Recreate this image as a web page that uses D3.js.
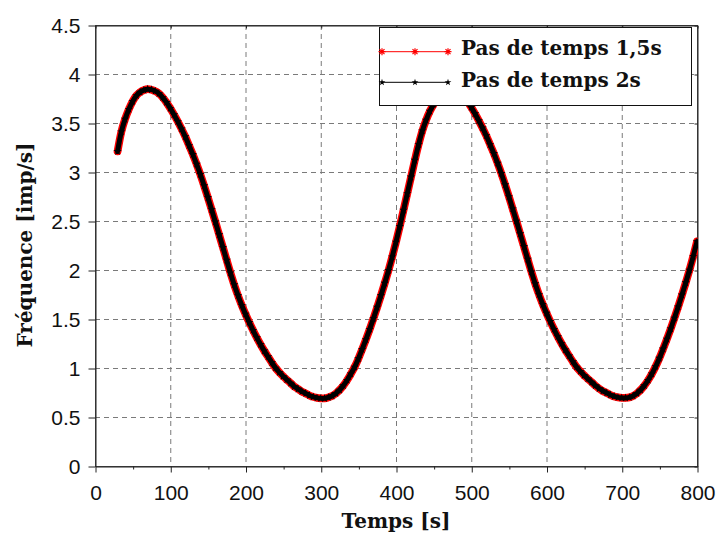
<!DOCTYPE html>
<html><head><meta charset="utf-8">
<script src="https://cdn.jsdelivr.net/npm/d3@7"></script>
<style>body{margin:0;background:#fff} svg{display:block}</style>
</head><body><svg id="c" width="718" height="546"></svg>
<script>
// time grid (s) at which the curves are read
const temps = d3.range(30, 801, 5);
// Série "Pas de temps 1,5s" (imp/s)
const freqPas15 = [
 3.21,3.41,3.54,3.64,3.72,3.78,3.815,3.835,3.845,3.84,
 3.825,3.80,3.76,3.71,3.65,3.585,3.515,3.44,3.36,3.27,
 3.18,3.08,2.975,2.86,2.74,2.615,2.49,2.36,2.23,2.10,
 1.97,1.85,1.74,1.64,1.55,1.465,1.385,1.31,1.24,1.175,
 1.115,1.055,1.00,0.955,0.915,0.88,0.845,0.81,0.785,0.76,
 0.74,0.72,0.705,0.695,0.69,0.69,0.70,0.715,0.74,0.775,
 0.82,0.875,0.94,1.01,1.095,1.19,1.29,1.395,1.505,1.62,
 1.74,1.865,1.995,2.135,2.285,2.445,2.61,2.78,2.95,3.12,
 3.28,3.42,3.53,3.62,3.69,3.745,3.79,3.82,3.84,3.85,
 3.835,3.81,3.77,3.72,3.66,3.595,3.525,3.45,3.37,3.28,
 3.19,3.09,2.985,2.87,2.75,2.625,2.50,2.37,2.24,2.11,
 1.98,1.86,1.75,1.65,1.56,1.475,1.395,1.32,1.25,1.185,
 1.125,1.065,1.01,0.965,0.925,0.89,0.855,0.82,0.79,0.765,
 0.745,0.725,0.71,0.70,0.695,0.695,0.70,0.715,0.74,0.775,
 0.82,0.875,0.94,1.015,1.10,1.195,1.295,1.40,1.51,1.625,
 1.745,1.87,2.00,2.14,2.29
];
// Série "Pas de temps 2s" (imp/s)
const freqPas2 = [
 3.21,3.41,3.54,3.64,3.72,3.78,3.815,3.835,3.845,3.84,
 3.825,3.80,3.76,3.71,3.65,3.585,3.515,3.44,3.36,3.27,
 3.18,3.08,2.975,2.86,2.74,2.615,2.49,2.36,2.23,2.10,
 1.97,1.85,1.74,1.64,1.55,1.465,1.385,1.31,1.24,1.175,
 1.115,1.055,1.00,0.955,0.915,0.88,0.845,0.81,0.785,0.76,
 0.74,0.72,0.705,0.695,0.69,0.69,0.70,0.715,0.74,0.775,
 0.82,0.875,0.94,1.01,1.095,1.19,1.29,1.395,1.505,1.62,
 1.74,1.865,1.995,2.135,2.285,2.445,2.61,2.78,2.95,3.12,
 3.28,3.42,3.53,3.62,3.69,3.745,3.79,3.82,3.84,3.85,
 3.835,3.81,3.77,3.72,3.66,3.595,3.525,3.45,3.37,3.28,
 3.19,3.09,2.985,2.87,2.75,2.625,2.50,2.37,2.24,2.11,
 1.98,1.86,1.75,1.65,1.56,1.475,1.395,1.32,1.25,1.185,
 1.125,1.065,1.01,0.965,0.925,0.89,0.855,0.82,0.79,0.765,
 0.745,0.725,0.71,0.70,0.695,0.695,0.70,0.715,0.74,0.775,
 0.82,0.875,0.94,1.015,1.10,1.195,1.295,1.40,1.51,1.625,
 1.745,1.87,2.00,2.14,2.29
];
const xTicks = [0,100,200,300,400,500,600,700,800];
const xTickLabels = ["0","100","200","300","400","500","600","700","800"];
const xMinorTicks = [50,150,250,350,450,550,650,750];
const yTicks = [0,0.5,1,1.5,2,2.5,3,3.5,4,4.5];
const yTickLabels = ["0","0.5","1","1.5","2","2.5","3","3.5","4","4.5"];
const seriesNames = ["Pas de temps 1,5s","Pas de temps 2s"];
const xTitle = "Temps [s]";
const yTitle = "Fréquence [imp/s]";

const svg = d3.select("#c");
const L = 95, R = 697, T = 25, B = 466;
const x = d3.scaleLinear().domain([0,800]).range([L,R]);
const y = d3.scaleLinear().domain([0,4.5]).range([B,T]);
const tickFont = "'Liberation Sans', Arial, sans-serif";
const titleFont = "'DejaVu Serif', serif";

// grid
const grid = svg.append("g").attr("stroke","#7a7a7a").attr("stroke-width",1).attr("stroke-dasharray","5,4");
grid.selectAll("line.gx").data(xTicks.slice(1,-1)).join("line").attr("class","gx")
  .attr("x1",d=>x(d)+0.5).attr("x2",d=>x(d)+0.5).attr("y1",T).attr("y2",B);
grid.selectAll("line.gy").data(yTicks.slice(1,-1)).join("line").attr("class","gy")
  .attr("x1",L).attr("x2",R).attr("y1",d=>y(d)+0.5).attr("y2",d=>y(d)+0.5);

// frame
svg.append("rect").attr("x",L+0.5).attr("y",T+0.5).attr("width",R-L).attr("height",B-T)
  .attr("fill","none").attr("stroke","#444").attr("stroke-width",1);

// axes
const ax = svg.append("g").attr("transform",`translate(0.5,${B+0.5})`)
  .call(d3.axisBottom(x).tickValues(xTicks).tickFormat((d,i)=>xTickLabels[i]).tickSize(6).tickSizeOuter(0).tickPadding(13));
const axm = svg.append("g").attr("transform",`translate(0.5,${B+0.5})`)
  .call(d3.axisBottom(x).tickValues(xMinorTicks).tickFormat("").tickSize(3).tickSizeOuter(0));
axm.select(".domain").remove();
const ay = svg.append("g").attr("transform",`translate(${L+0.5},0.5)`)
  .call(d3.axisLeft(y).tickValues(yTicks).tickFormat((d,i)=>yTickLabels[i]).tickSize(7).tickSizeOuter(0).tickPadding(8));
const at = svg.append("g").attr("transform",`translate(0.5,${T+0.5})`)
  .call(d3.axisTop(x).tickValues(xTicks).tickFormat("").tickSize(-3).tickSizeOuter(0));
const ar = svg.append("g").attr("transform",`translate(${R+0.5},0.5)`)
  .call(d3.axisRight(y).tickValues(yTicks).tickFormat("").tickSize(-3).tickSizeOuter(0));
[ax,axm,ay,at,ar].forEach(g=>{
  g.selectAll(".domain").attr("stroke","#222");
  g.selectAll(".tick line").attr("stroke","#222");
  g.selectAll("text").attr("font-family",tickFont).attr("font-size",21).attr("fill","#111");
});

// clip
svg.append("clipPath").attr("id","clip").append("rect").attr("x",L).attr("y",T).attr("width",R-L+1).attr("height",B-T);
const plot = svg.append("g").attr("clip-path","url(#clip)");

const line = d3.line().x((d,i)=>x(temps[i])).y(d=>y(d)).curve(d3.curveCatmullRom.alpha(0.5));
const asterisk = "M-3.5,0H3.5M0,-3.5V3.5M-2.5,-2.5L2.5,2.5M-2.5,2.5L2.5,-2.5";
const star = d3.symbol().type(d3.symbolStar).size(22)();

// red series
plot.append("path").datum(freqPas15).attr("d",line).attr("fill","none")
  .attr("stroke","#ff0000").attr("stroke-width",7.8).attr("stroke-linejoin","round").attr("stroke-linecap","round");
plot.append("g").selectAll("path").data(freqPas15).join("path")
  .attr("transform",(d,i)=>`translate(${x(temps[i])},${y(d)})`)
  .attr("d",asterisk).attr("stroke","#ff0000").attr("stroke-width",1).attr("fill","none");
// black series
plot.append("path").datum(freqPas2).attr("d",line).attr("fill","none")
  .attr("stroke","#000").attr("stroke-width",5).attr("stroke-linejoin","round").attr("stroke-linecap","round");
plot.append("g").selectAll("path").data(freqPas2).join("path")
  .attr("transform",(d,i)=>`translate(${x(temps[i])},${y(d)})`)
  .attr("d",star).attr("fill","#000");

// legend
const lg = svg.append("g");
lg.append("rect").attr("x",379.5).attr("y",27.5).attr("width",312).attr("height",78)
  .attr("fill","#fff").attr("stroke","#111").attr("stroke-width",1);
const legY = [51.7, 82.3];
const legColors = ["#ff0000","#000"];
seriesNames.forEach((name,k)=>{
  lg.append("line").attr("x1",382).attr("x2",448).attr("y1",legY[k]).attr("y2",legY[k])
    .attr("stroke",legColors[k]).attr("stroke-width",1);
  [382,415,448].forEach(px=>{
    if(k===0){
      lg.append("path").attr("transform",`translate(${px},${legY[k]})`).attr("d",asterisk)
        .attr("stroke","#ff0000").attr("stroke-width",1.2).attr("fill","none");
    } else {
      lg.append("path").attr("transform",`translate(${px},${legY[k]})`)
        .attr("d",d3.symbol().type(d3.symbolStar).size(14)()).attr("fill","#000");
    }
  });
  lg.append("text").attr("x",461).attr("y",k===0?55:86.7).text(name)
    .attr("font-family",titleFont).attr("font-weight","bold").attr("font-size",20).attr("fill","#111");
});

// titles
svg.append("text").attr("x",(L+R)/2).attr("y",528).attr("text-anchor","middle").text(xTitle)
  .attr("font-family",titleFont).attr("font-weight","bold").attr("font-size",20).attr("fill","#111");
svg.append("text").attr("transform","translate(32,245) rotate(-90)").attr("text-anchor","middle").text(yTitle)
  .attr("font-family",titleFont).attr("font-weight","bold").attr("font-size",20).attr("fill","#111");
</script></body></html>
